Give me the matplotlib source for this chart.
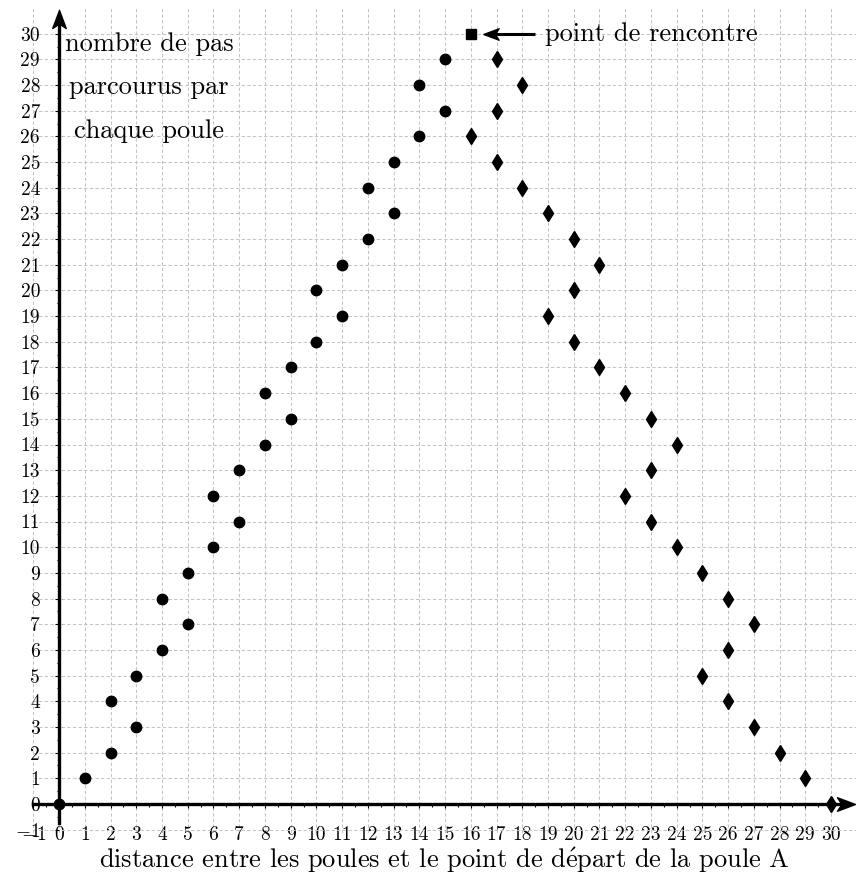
import matplotlib
matplotlib.use('Agg')
import matplotlib.pyplot as plt
import numpy as np
from matplotlib.path import Path

plt.rcParams['font.family'] = ['cmr10', 'DejaVu Serif']
plt.rcParams['mathtext.fontset'] = 'cm'
plt.rcParams['axes.unicode_minus'] = False

# poule A : distance parcourue / nombre de pas
poule_a_x = [0, 1, 2, 2, 3, 3, 4, 4, 5, 5, 6, 6, 7, 7, 8, 8,
             9, 9, 10, 10, 11, 11, 12, 12, 13, 13, 14, 14, 15, 15]
poule_a_y = [0, 1, 2, 4, 3, 5, 6, 8, 7, 9, 10, 12, 11, 13, 14, 16,
             15, 17, 18, 20, 19, 21, 22, 24, 23, 25, 26, 28, 27, 29]

# poule B : part de l'autre bout
poule_b_x = [30, 29, 28, 27, 27, 26, 26, 26, 25, 25, 24, 24, 23, 23, 23,
             22, 22, 21, 21, 20, 20, 20, 19, 19, 18, 18, 17, 17, 17, 16]
poule_b_y = [0, 1, 2, 3, 7, 4, 6, 8, 5, 9, 10, 14, 11, 13, 15,
             12, 16, 17, 21, 18, 20, 22, 19, 23, 24, 28, 25, 27, 29, 26]

rencontre = (16, 30)

x_ticks = list(range(-1, 31))
y_ticks = list(range(-1, 31))

def tick_text(v):
    return '$-1$' if v < 0 else str(v)

# pointe de flèche type "stealth"
stealth = Path([(1, 0), (-1, 0.75), (-0.5, 0), (-1, -0.75), (1, 0)],
               [Path.MOVETO, Path.LINETO, Path.LINETO, Path.LINETO, Path.CLOSEPOLY])
stealth_up = stealth.transformed(matplotlib.transforms.Affine2D().rotate_deg(90))
stealth_left = stealth.transformed(matplotlib.transforms.Affine2D().rotate_deg(180))

fig = plt.figure(figsize=(8.56, 8.74), dpi=100)
ax = fig.add_axes([33.3 / 856, 41 / 874, 822.7 / 856, 825 / 874])
ax.set_xlim(-1, 30.97)
ax.set_ylim(-1.13, 31.0)

ax.set_xticks(x_ticks)
ax.set_yticks(y_ticks)
ax.set_xticklabels([tick_text(v) for v in x_ticks])
ax.set_yticklabels([tick_text(v) for v in y_ticks])
ax.set_xticks(np.arange(-0.5, 30.5, 1), minor=True)
ax.set_yticks(np.arange(-0.5, 30.5, 1), minor=True)

ax.grid(True, which='major', color='#c4c4c4', lw=0.75, linestyle=(0, (3.2, 2.2)))
ax.set_axisbelow(True)

for side in ['top', 'right']:
    ax.spines[side].set_visible(False)
ax.spines['left'].set_position(('data', 0))
ax.spines['bottom'].set_position(('data', 0))
ax.spines['left'].set_linewidth(2.4)
ax.spines['bottom'].set_linewidth(2.4)
ax.spines['left'].set_bounds(-0.75, 30.5)
ax.spines['bottom'].set_bounds(-1, 30.6)

ax.tick_params(axis='both', which='major', direction='out', length=3, width=0.8,
               labelsize=14)
ax.tick_params(axis='both', which='minor', direction='out', length=1.8, width=0.8)
ax.tick_params(axis='y', which='major', pad=10.7)
ax.tick_params(axis='x', which='major', pad=12.8)

# flèches au bout des axes
ax.plot(30.6, 0, marker=stealth, markersize=13, color='black', clip_on=False, zorder=5)
ax.plot(0, 30.58, marker=stealth_up, markersize=13, color='black', clip_on=False, zorder=5)

ax.plot(poule_a_x, poule_a_y, 'o', color='black', markersize=7.5, clip_on=False, zorder=4)
ax.plot(poule_b_x, poule_b_y, 'd', color='black', markersize=7.7, clip_on=False, zorder=4)
ax.plot(*rencontre, 's', color='black', markersize=7, zorder=4)

ax.plot([16.75, 18.5], [30, 30], color='black', lw=2.2, solid_capstyle='butt', zorder=4)
ax.plot(16.78, 30, marker=stealth_left, markersize=11, color='black', zorder=5)
ax.text(18.9, 30, 'point de rencontre', fontsize=19, ha='left', va='center')

ax.text(3.5, 27.9, 'nombre de pas\nparcourus par\nchaque poule', fontsize=19,
        ha='center', va='center', multialignment='center', linespacing=2.05)

ax.set_xlabel(r'distance entre les poules et le point de d$\acute{\rm e}$part de la poule A',
              fontsize=19, labelpad=1.5)

fig.savefig('out.png', dpi=100)
